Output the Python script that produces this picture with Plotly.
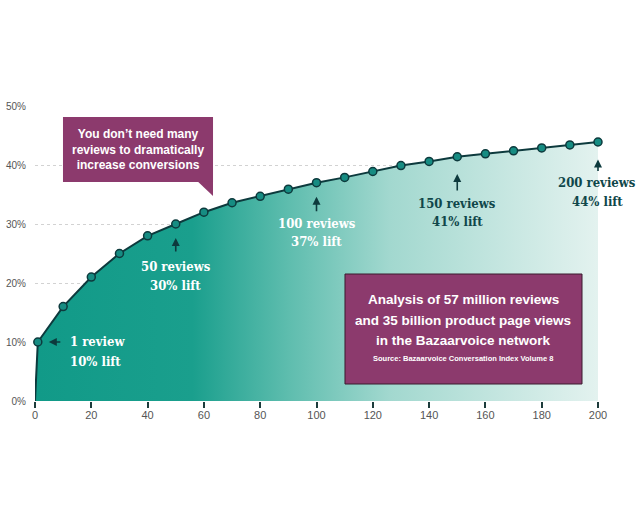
import plotly.graph_objects as go

# ---- data ----
reviews = [0, 1, 10, 20, 30, 40, 50, 60, 70, 80, 90, 100, 110, 120, 130, 140, 150, 160, 170, 180, 190, 200]
lift = [0, 10, 16, 21, 25, 28, 30, 32, 33.6, 34.7, 35.9, 37, 37.9, 38.9, 39.9, 40.6, 41.4, 41.9, 42.4, 42.9, 43.4, 43.9]

callout_reviews = [1, 50, 100, 150, 200]
callout_lift = [10, 30, 37, 41, 44]
callout_line1 = ["1 review", "50 reviews", "100 reviews", "150 reviews", "200 reviews"]
callout_line2 = ["10% lift", "30% lift", "37% lift", "41% lift", "44% lift"]
callout_color = ["white", "white", "white", "#10474a", "#10474a"]

x_ticks = [0, 20, 40, 60, 80, 100, 120, 140, 160, 180, 200]
y_ticks = [0, 10, 20, 30, 40, 50]
y_tick_text = ["0%", "10%", "20%", "30%", "40%", "50%"]

headline = ["You don\u2019t need many", "reviews to dramatically", "increase conversions"]
box_lines = ["Analysis of 57 million reviews", "and 35 billion product page views", "in the Bazaarvoice network"]
source_text = "Source: Bazaarvoice Conversation Index Volume 8"

DARK = "#0d3a3d"
PURPLE = "#8c3a6d"
SLAB = "DejaVu Serif Condensed, DejaVu Serif, serif"
SANS = "Liberation Sans, Arial, sans-serif"

fig = go.Figure()

fig.add_trace(go.Scatter(
    x=reviews, y=lift, mode="lines", fill="tozeroy",
    line=dict(color=DARK, width=2),
    fillgradient=dict(type="horizontal", colorscale=[
        [0.0, "#119a88"], [0.28, "#1a9f8d"], [0.45, "#5ebdae"],
        [0.63, "#a2d8cf"], [1.0, "#e3f2ef"]]),
    hoverinfo="skip", showlegend=False, cliponaxis=False,
))
fig.add_trace(go.Scatter(
    x=reviews[1:], y=lift[1:], mode="markers",
    marker=dict(size=8, color="#168c82", line=dict(color=DARK, width=1.5)),
    showlegend=False, cliponaxis=False,
))

# arrows + labels
arrow_cfg = [  # (ax, ay, standoff, xanchor, xshift, y1shift, y2shift)
    (24, 0, 11, "left", 30, 1, -19),
    (0, 29, 14, "center", 0, -42, -61),
    (0, 30, 14, "center", 0, -41, -59),
    (0, 33, 15, "center", 0, -44, -62),
    (0, 31, 18, "center", -1, -41, -60),
]
for i, (xr, yl) in enumerate(zip(callout_reviews, callout_lift)):
    ax, ay, so, xa, xs, s1, s2 = arrow_cfg[i]
    fig.add_annotation(x=xr, y=yl, text="", showarrow=True, ax=ax, ay=ay,
                       standoff=so, arrowhead=2, arrowsize=1, arrowwidth=1.6,
                       arrowcolor=DARK)
    for txt, sh in ((callout_line1[i], s1), (callout_line2[i], s2)):
        fig.add_annotation(x=xr, y=yl, text=txt, showarrow=False, xanchor=xa,
                           yanchor="middle", xshift=xs, yshift=sh,
                           font=dict(family=SLAB, size=13, color=callout_color[i],
                                     weight="bold"))

# headline callout box with tail
fig.add_shape(type="rect", xref="paper", yref="paper", x0=0.0497, x1=0.3162,
              y0=0.7424, y1=0.9627, fillcolor=PURPLE, line=dict(width=0))
fig.add_shape(type="path", xref="paper", yref="paper",
              path="M 0.2895 0.7434 L 0.3162 0.7434 L 0.3162 0.6949 Z",
              fillcolor=PURPLE, line=dict(width=0))
fig.add_annotation(xref="paper", yref="paper", x=0.183, y=0.854,
                   xanchor="center", yanchor="middle",
                   text="<br>".join(headline), showarrow=False,
                   font=dict(family=SANS, size=12, color="white", weight="bold"))

# analysis box
fig.add_shape(type="rect", xref="paper", yref="paper", x0=0.5506, x1=0.9716,
              y0=0.0576, y1=0.4305, fillcolor=PURPLE,
              line=dict(color="#3b1a2e", width=1))
for txt, yy in zip(box_lines, [0.3424, 0.2712, 0.2034]):
    fig.add_annotation(xref="paper", yref="paper", x=0.761, y=yy, text=txt,
                       xanchor="center", yanchor="middle", showarrow=False,
                       font=dict(family=SANS, size=13.5, color="white", weight="bold"))
fig.add_annotation(xref="paper", yref="paper", x=0.761, y=0.1424, text=source_text,
                   xanchor="center", yanchor="middle", showarrow=False,
                   font=dict(family=SANS, size=7.5, color="white", weight="bold"))

fig.update_layout(
    width=640, height=512,
    margin=dict(l=35, r=42, t=106, b=111),
    paper_bgcolor="white", plot_bgcolor="white",
    xaxis=dict(range=[0, 200], tickvals=x_ticks, showgrid=False, zeroline=False,
               ticks="outside", ticklen=6, tickwidth=1.5, tickcolor="#1d3c3c",
               showline=False, ticklabelstandoff=-2, automargin=False,
               tickfont=dict(family=SANS, size=11, color="#555555")),
    yaxis=dict(range=[0, 50], tickvals=y_ticks, ticktext=y_tick_text,
               showgrid=True, gridcolor="#d2d2d2", griddash="dot", gridwidth=1,
               zeroline=False, ticks="", showline=False, ticklabelstandoff=8,
               automargin=False,
               tickfont=dict(family=SANS, size=10, color="#555555")),
)

fig.write_html("out.html")
